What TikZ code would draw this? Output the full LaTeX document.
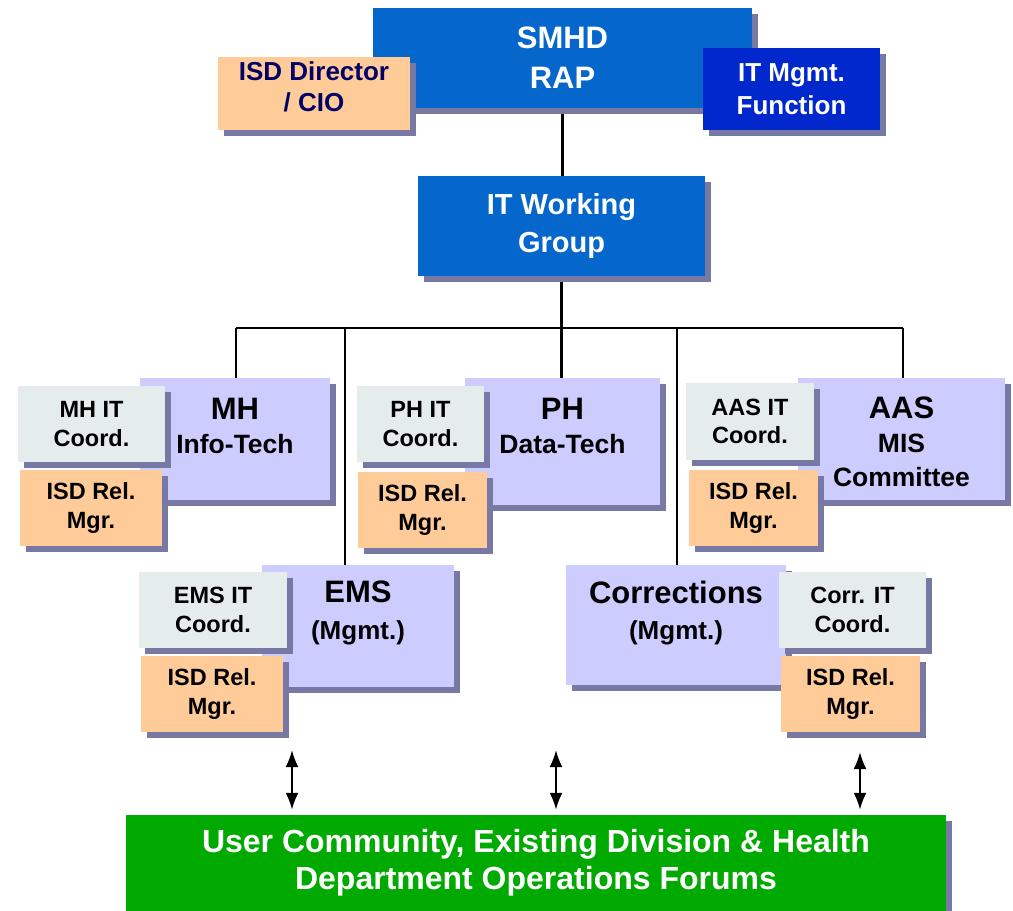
\documentclass[tikz,border=0pt]{standalone}
\usepackage{fontspec}
\setmainfont{Liberation Sans}
\usetikzlibrary{shadows,arrows.meta,backgrounds}
\definecolor{shadowc}{RGB}{120,120,165}
\definecolor{blueA}{RGB}{5,102,204}
\definecolor{blueB}{RGB}{0,40,204}
\definecolor{peach}{RGB}{255,204,153}
\definecolor{lav}{RGB}{204,204,255}
\definecolor{coordc}{RGB}{229,236,236}
\definecolor{greenc}{RGB}{0,170,0}
\definecolor{navy}{RGB}{0,0,102}
\begin{document}
\begin{tikzpicture}[x=1pt,y=-1pt,
  box/.style={rectangle,inner sep=0pt,draw=none,align=center,
    drop shadow={shadow xshift=6pt,shadow yshift=-6pt,fill=shadowc,opacity=1}},
  txt/.style={align=center,inner sep=0pt},
  small/.style={font=\bfseries\fontsize{23.5}{28.5}\selectfont},
  coordbox/.style={box,small,fill=coordc},
  relbox/.style={box,small,fill=peach},
  unitbox/.style={box,fill=lav},
  conn/.style={line width=2.7pt,black},
  dbl/.style={line width=2.2pt,{Latex[length=17pt,width=13pt]}-{Latex[length=17pt,width=13pt]},shorten >=5pt}
]
\useasboundingbox (0,0) rectangle (1013,911);

% top level
\node[box,fill=blueA,text=white,font=\bfseries\fontsize{31}{40}\selectfont,
  minimum width=379pt,minimum height=100pt] (smhd) at (562.5,58) {SMHD\\RAP};
\node[box,fill=peach,minimum width=192pt,minimum height=73pt] (isd) at (314,93.5) {};
\node[txt,text=navy,font=\bfseries\fontsize{26}{31}\selectfont] (isdt) at (314,87) {ISD Director\\/ CIO};
\node[box,fill=blueB,text=white,font=\bfseries\fontsize{26}{33}\selectfont,
  minimum width=177pt,minimum height=82pt] (itm) at (791.5,89) {IT Mgmt.\\Function};

\node[box,fill=blueA,text=white,font=\bfseries\fontsize{29}{38}\selectfont,
  minimum width=287pt,minimum height=100pt] (itwg) at (561.5,226) {IT Working\\Group};

% second level units
\node[unitbox,minimum width=190pt,minimum height=122pt] (mh) at (235,439) {};
\node[txt,font=\bfseries\fontsize{26.5}{34}\selectfont] (mht) at (235,426) {{\fontsize{31}{34}\selectfont MH}\\Info-Tech};
\node[unitbox,minimum width=195pt,minimum height=127pt] (ph) at (562.5,441.5) {};
\node[txt,font=\bfseries\fontsize{26.5}{34}\selectfont] (pht) at (562.5,426) {{\fontsize{31}{34}\selectfont PH}\\Data-Tech};
\node[unitbox,minimum width=207pt,minimum height=122pt] (aas) at (901.5,439) {};
\node[txt,font=\bfseries\fontsize{26.5}{34}\selectfont] (aast) at (901.5,442) {{\fontsize{31}{34}\selectfont AAS}\\MIS\\Committee};
\node[unitbox,minimum width=192pt,minimum height=122pt] (ems) at (358,626) {};
\node[txt,font=\bfseries\fontsize{26}{37}\selectfont] (emst) at (358,613) {{\fontsize{31}{37}\selectfont EMS}\\(Mgmt.)};
\node[unitbox,minimum width=220pt,minimum height=120pt] (corr) at (676,625) {};
\node[txt,font=\bfseries\fontsize{26}{36}\selectfont] (corrt) at (676,613) {{\fontsize{31}{36}\selectfont Corrections}\\(Mgmt.)};

% coordinators and relationship managers
\node[coordbox,minimum width=147pt,minimum height=76pt] (mhc) at (91.5,424) {MH IT\\Coord.};
\node[relbox,minimum width=142pt,minimum height=76pt] (mhi) at (91,508) {ISD Rel.\\Mgr.};
\node[coordbox,minimum width=127pt,minimum height=76pt] (phc) at (420.5,424) {PH IT\\Coord.};
\node[relbox,minimum width=129pt,minimum height=76pt] (phi) at (422.5,510) {ISD Rel.\\Mgr.};
\node[coordbox,minimum width=128pt,minimum height=77pt] (aasc) at (750,421.5) {AAS IT\\Coord.};
\node[relbox,minimum width=129pt,minimum height=76pt] (aasi) at (753.5,508) {ISD Rel.\\Mgr.};
\node[coordbox,minimum width=148pt,minimum height=76pt] (emsc) at (213,610) {EMS IT\\Coord.};
\node[relbox,minimum width=142pt,minimum height=76pt] (emsi) at (212,694) {ISD Rel.\\Mgr.};
\node[coordbox,minimum width=147pt,minimum height=76pt] (corrc) at (852.5,610) {Corr. IT\\Coord.};
\node[relbox,minimum width=139pt,minimum height=76pt] (corri) at (850.5,694) {ISD Rel.\\Mgr.};

% user community
\node[box,fill=greenc,text=white,font=\bfseries\fontsize{32}{37}\selectfont,
  minimum width=820pt,minimum height=96pt] (users) at (536,863) {User Community, Existing Division \& Health\\Department Operations Forums};

% connectors
\coordinate (bL) at (236,328);
\coordinate (bE) at (345,328);
\coordinate (bC) at (677,328);
\coordinate (bR) at (903,328);
\begin{scope}[on background layer]
\draw[conn] (smhd.south) -- (smhd.south |- itwg.north);
\draw[conn] (itwg.south) -- (itwg.south |- bL);
\draw[conn] (bL) -- (bR);
\draw[conn] (bL) -- (bL |- mh.north);
\draw[conn] (bE) -- (bE |- ems.north);
\draw[conn] (itwg.south |- bL) -- (itwg.south |- ph.north);
\draw[conn] (bC) -- (bC |- corr.north);
\draw[conn] (bR) -- (bR |- aas.north);
\end{scope}

\coordinate (u1) at (292,750);
\coordinate (u2) at (556,750);
\coordinate (u3) at (860,752);
\draw[dbl] (u1) -- (u1 |- users.north);
\draw[dbl] (u2) -- (u2 |- users.north);
\draw[dbl] (u3) -- (u3 |- users.north);
\end{tikzpicture}
\end{document}
